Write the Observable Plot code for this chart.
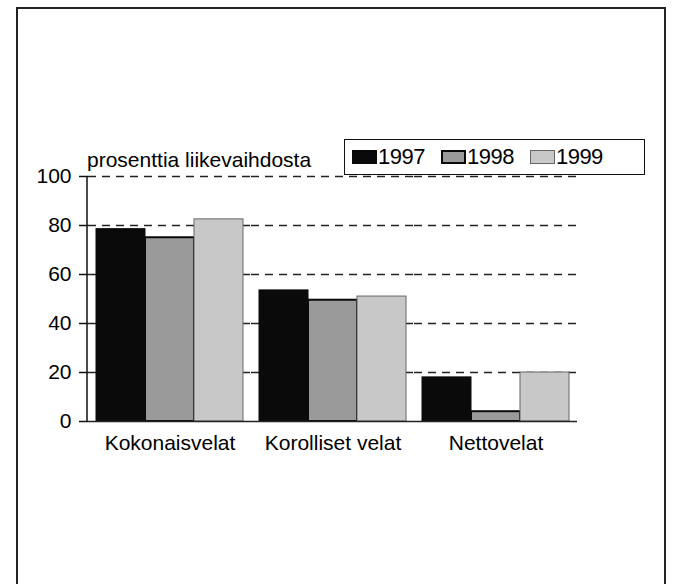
<!DOCTYPE html>
<html>
<head>
<meta charset="utf-8">
<script src="https://cdn.jsdelivr.net/npm/d3@7"></script>
<script src="https://cdn.jsdelivr.net/npm/@observablehq/plot@0.6"></script>
<style>
  html, body { margin: 0; padding: 0; background: #fff; width: 674px; height: 584px; overflow: hidden; }
  body { position: relative; font-family: "Liberation Sans", Arial, Helvetica, sans-serif; color: #000; }
  #frame { position: absolute; left: 16px; top: 7px; width: 650px; height: 620px; border: 2px solid #222; box-sizing: border-box; }
  #chart { position: absolute; left: 0; top: 0; }
  #title { position: absolute; left: 87px; top: 149px; font-size: 21px; line-height: 21px; white-space: nowrap; }
  #legend { position: absolute; left: 344px; top: 139px; width: 301px; height: 36px; border: 1.5px solid #111; box-sizing: border-box; background: #fff; display: flex; align-items: center; padding-left: 7px; font-size: 22px; letter-spacing: -0.5px; }
  .item { display: flex; align-items: center; margin-right: 16px; }
  .sw { width: 25px; height: 14px; box-sizing: border-box; margin-right: 1px; }
</style>
</head>
<body>
<div id="frame"></div>
<div id="chart"></div>
<div id="title">prosenttia liikevaihdosta</div>
<div id="legend"></div>
<script>
const categories = ["Kokonaisvelat", "Korolliset velat", "Nettovelat"];
const years = ["1997", "1998", "1999"];
const values1997 = [78.5, 53.5, 18];
const values1998 = [75, 49.5, 4];
const values1999 = [82.5, 51, 20];
const yTicks = [0, 20, 40, 60, 80, 100];
const gridTicks = [20, 40, 60, 80, 100];

const fills = {"1997": "#0a0a0a", "1998": "#9a9a9a", "1999": "#c8c8c8"};
const strokes = {"1997": "#0a0a0a", "1998": "#0a0a0a", "1999": "#666666"};
const strokeWidths = {"1997": 1, "1998": 2, "1999": 1};

const seriesValues = {"1997": values1997, "1998": values1998, "1999": values1999};
const data = [];
categories.forEach((c, i) => {
  years.forEach(y => data.push({category: c, year: y, value: seriesValues[y][i]}));
});

const W = 674, H = 584;
const chart = Plot.plot({
  width: W,
  height: H,
  marginLeft: 87,
  marginRight: 96,
  marginTop: 176,
  marginBottom: 163,
  style: {fontFamily: '"Liberation Sans", Arial, Helvetica, sans-serif', fontSize: "21px", color: "#000", background: "transparent", overflow: "visible"},
  fx: {domain: categories, paddingInner: 0, paddingOuter: 0, label: null},
  x: {domain: years, paddingInner: 0, paddingOuter: 0.146, axis: null},
  y: {domain: [0, 100], axis: null},
  marks: [
    Plot.ruleY(gridTicks, {stroke: "#222", strokeWidth: 1.5, strokeDasharray: "8,6"}),
    ...years.map(yr => Plot.barY(data.filter(d => d.year === yr), {
      fx: "category", x: "year", y: "value",
      fill: fills[yr], stroke: strokes[yr], strokeWidth: strokeWidths[yr],
      inset: 0
    })),
    Plot.ruleY([0], {stroke: "#222", strokeWidth: 1.5}),
    Plot.axisY({anchor: "left", ticks: yTicks, tickSize: 9, tickPadding: 8, fontSize: 21, label: null, stroke: "#111", strokeWidth: 1.5}),
    Plot.axisFx({anchor: "bottom", tickSize: 0, tickPadding: 14, fontSize: 21, label: null})
  ]
});
document.getElementById("chart").appendChild(chart);

// vertical axis line at the plot's left edge, positioned from the y scale
const yScale = chart.scale("y");
d3.select(chart).append("line")
  .attr("x1", 87).attr("x2", 87)
  .attr("y1", yScale.apply(0)).attr("y2", yScale.apply(100))
  .attr("stroke", "#111").attr("stroke-width", 1.5);

// legend
const legend = d3.select("#legend");
years.forEach(yr => {
  const it = legend.append("div").attr("class", "item");
  it.append("div").attr("class", "sw")
    .style("background", fills[yr])
    .style("border", `${yr === "1998" ? 2 : 1}px solid ${strokes[yr]}`);
  it.append("span").text(yr);
});
</script>
</body>
</html>
